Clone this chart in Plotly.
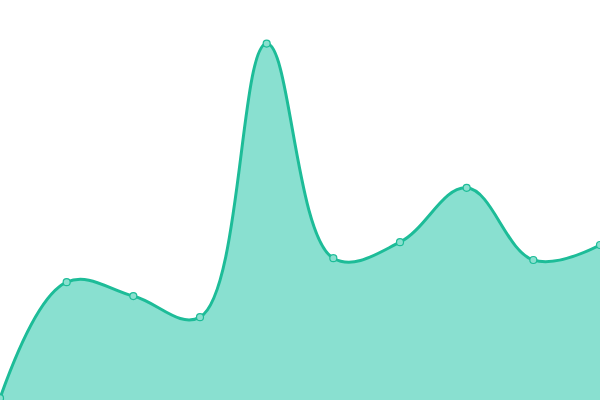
import plotly.graph_objects as go

x_vals = [0, 1, 2, 3, 4, 5, 6, 7, 8, 9]
y_vals = [0.5, 33.0, 29.1, 23.2, 99.8, 39.7, 44.2, 59.4, 39.2, 43.4]

fig = go.Figure()
fig.add_trace(go.Scatter(
    x=x_vals, y=y_vals,
    mode="lines+markers",
    line=dict(shape="spline", smoothing=1.1, color="#1dbc98", width=3),
    fill="tozeroy",
    fillcolor="#89e0d0",
    marker=dict(size=7, color="#8ae0cf", line=dict(color="#1dbc98", width=1.2)),
    hoverinfo="skip",
))
fig.update_layout(
    width=600, height=400,
    margin=dict(l=0, r=0, t=0, b=0),
    paper_bgcolor="white", plot_bgcolor="white",
    showlegend=False,
    xaxis=dict(range=[0, 9], visible=False, fixedrange=True),
    yaxis=dict(range=[0, 112], visible=False, fixedrange=True),
)
fig.write_html(
    "out.html",
    config={"displayModeBar": False},
    post_script="document.body.style.margin='0';document.body.style.overflow='hidden';",
)
